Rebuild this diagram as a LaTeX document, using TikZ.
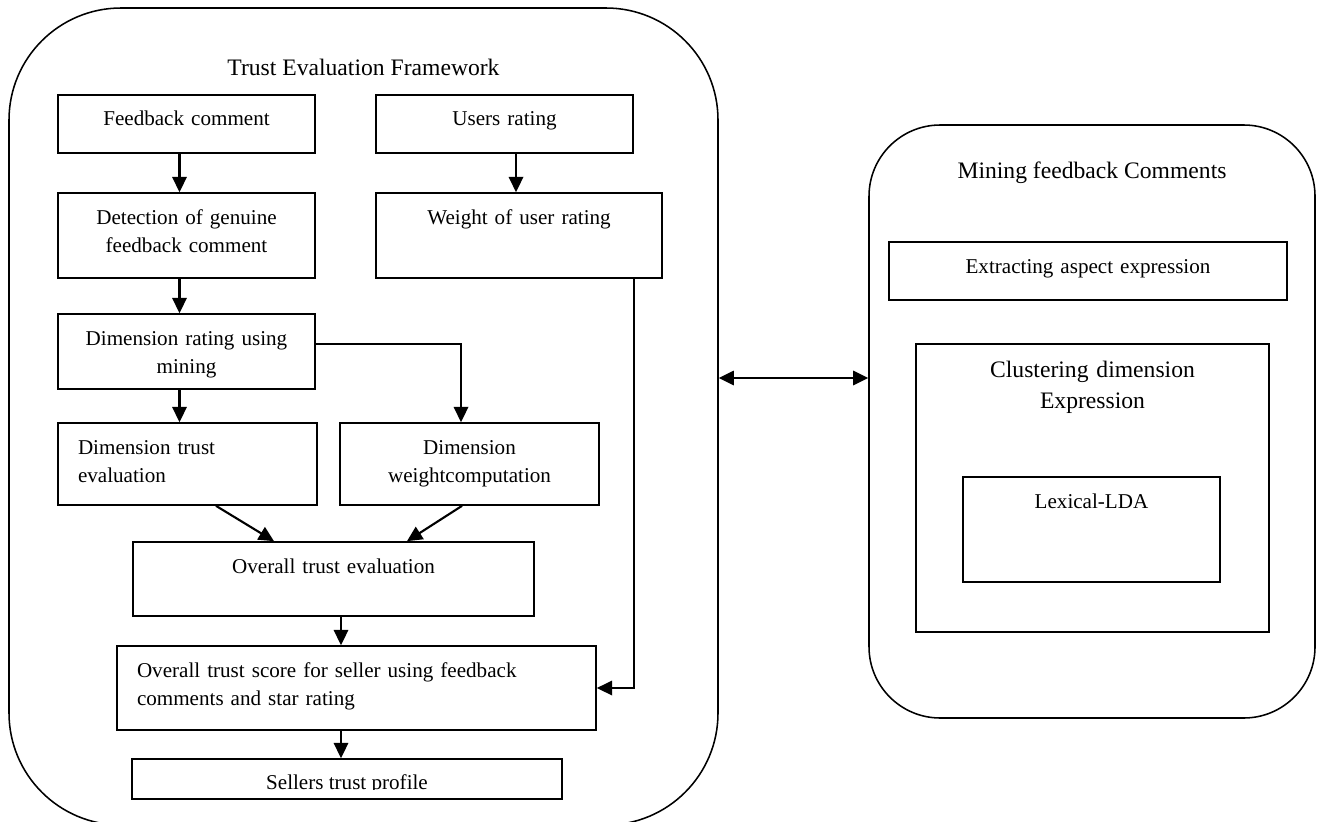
\documentclass[tikz,border=0pt]{standalone}
\usepackage{fontspec}
\setmainfont{Liberation Serif}
\usetikzlibrary{arrows.meta, positioning, calc}
\newdimen\pxd \pxd=0.025cm
\newcommand{\fs}{\fontsize{15}{20}\selectfont}
\newcommand{\fl}{\fontsize{16.8}{22.7}\selectfont}
\tikzset{
    box/.style     ={rectangle, draw=black, line width=1.2pt, inner xsep=20\pxd, inner ysep=0pt, text height=31\pxd, align=center, font=\fs},
    frame/.style   ={rectangle, draw=black, line width=1.1pt, inner sep=0pt},
    ttl/.style     ={anchor=base, font=\fl},
    flow/.style    ={-{Triangle[length=3.8mm, width=3.6mm]}, line width=1.5pt},
    biflow/.style  ={{Triangle[length=3.8mm, width=3.6mm]}-{Triangle[length=3.8mm, width=3.6mm]}, line width=1.5pt},
}

\begin{document}
\begin{tikzpicture}[x=0.025cm, y=-0.025cm]
        \useasboundingbox (0,0) rectangle (1320,821);
        % outer frames
        \node[frame, rounded corners=2.8cm, minimum width=709\pxd, minimum height=817\pxd] (tef) at (363.5,416.5) {};
        \node[ttl] (tefttl) at (363.5,75) {Trust Evaluation Framework};
        \node[frame, rounded corners=1.78cm, minimum width=446\pxd, minimum height=593\pxd] (mfc) at (1092,421.5) {};
        \node[ttl] (mfcttl) at (1092,178) {Mining feedback Comments};

        % left column
        \node[box, text width=217\pxd, text depth=27\pxd] (fbc) at (186.5,124) {Feedback comment};
        \node[box, text width=217\pxd, text depth=54\pxd] (det) at (186.5,235.5) {Detection of genuine\\feedback comment};
        \node[box, text width=217\pxd, text depth=44\pxd] (dimrate) at (186.5,351.5) {Dimension rating using\\mining};
        \node[box, align=left, text width=219\pxd, text depth=51\pxd] (dimtrust) at (187.5,464) {Dimension trust\\evaluation};
        % right column
        \node[box, text width=217\pxd, text depth=27\pxd] (usr) at (504.5,124) {Users rating};
        \node[box, text width=246\pxd, text depth=54\pxd] (wt) at (519,235.5) {Weight of user rating\hspace*{14\pxd}};
        \node[box, text width=219\pxd, text depth=51\pxd] (dimwt) at (469.5,464) {Dimension\\weightcomputation};
        % lower part
        \node[box, text width=361\pxd, text depth=43\pxd] (ovev) at (333.5,579) {Overall trust evaluation};
        \node[box, align=left, text width=439\pxd, text depth=53\pxd] (score) at (356.5,688) {Overall trust score for seller using feedback\\comments and star rating};
        \node[box, text width=390\pxd, text depth=9\pxd] (profile) at (347,779) {};
        \begin{scope}
            \clip (profile.north west) rectangle ([yshift=10\pxd]profile.south east);
            \node[anchor=base, font=\fs] (proftxt) at ([yshift=-31\pxd]profile.north) {Sellers trust profile};
        \end{scope}

        % mining side
        \node[box, text width=358\pxd, text depth=27\pxd] (ext) at (1088,271) {Extracting aspect expression};
        \node[box, font=\fl, text height=33\pxd, text width=313\pxd, text depth=255\pxd] (clus) at (1092.5,488) {Clustering dimension\\Expression};
        \node[box, text width=217\pxd, text depth=74\pxd] (lda) at (1091.5,529.5) {Lexical-LDA};

        % arrows
        \draw[flow] ([xshift=-7\pxd]fbc.south) -- ([xshift=-7\pxd]fbc.south |- det.north);
        \draw[flow] ([xshift=11.5\pxd]usr.south) -- ([xshift=11.5\pxd]usr.south |- wt.north);
        \draw[flow] ([xshift=-7\pxd]det.south) -- ([xshift=-7\pxd]det.south |- dimrate.north);
        \draw[flow] ([xshift=-7\pxd]dimrate.south) -- ([xshift=-7\pxd]dimrate.south |- dimtrust.north);
        \draw[flow] ([yshift=7.5\pxd]dimrate.east) -| ([xshift=-8.5\pxd]dimwt.north);
        \draw[flow] ([xshift=28.5\pxd]dimtrust.south) -- ([xshift=-59.5\pxd]ovev.north);
        \draw[flow] ([xshift=-7.5\pxd]dimwt.south) -- ([xshift=73.5\pxd]ovev.north);
        \draw[flow] ([xshift=7.5\pxd]ovev.south) -- ([xshift=7.5\pxd]ovev.south |- score.north);
        \draw[flow] ([xshift=-15.5\pxd]score.south) -- ([xshift=-15.5\pxd]score.south |- profile.north);
        \draw[flow] ([xshift=115\pxd]wt.south) |- (score.east);
        \coordinate (bridge) at (793,378);
        \draw[biflow] (tef.east |- bridge) -- (mfc.west |- bridge);
    \end{tikzpicture}
\end{document}
